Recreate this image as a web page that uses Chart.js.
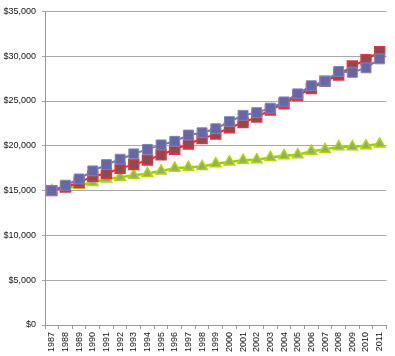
<!DOCTYPE html>
<html>
<head>
<meta charset="utf-8">
<script src="https://cdn.jsdelivr.net/npm/chart.js@4/dist/chart.umd.min.js"></script>
<style>
html,body{margin:0;padding:0;background:#fff;}
#wrap{width:395px;height:356px;}
</style>
</head>
<body>
<div id="wrap"><canvas id="c" width="395" height="356"></canvas></div>
<script>
const years = ['1987','1988','1989','1990','1991','1992','1993','1994','1995','1996','1997','1998','1999','2000','2001','2002','2003','2004','2005','2006','2007','2008','2009','2010','2011'];
const blueSeries = [15000,15600,16300,17200,17900,18500,19100,19600,20100,20500,21200,21450,21900,22700,23400,23700,24200,24900,25800,26700,27200,28300,28200,28700,29700];
const redSeries = [15000,15400,15900,16600,16900,17500,17900,18400,19000,19600,20200,20800,21300,22000,22600,23200,24000,24700,25600,26400,27200,27900,28900,29600,30500];
const greenSeries = [15000,15300,15600,15900,16300,16500,16700,16900,17200,17500,17600,17700,18000,18200,18400,18450,18700,18900,19000,19400,19600,19900,19900,20000,20200];
const yMin = 0, yMax = 35000, yStep = 5000;

function money(v){
  const s = Math.round(v).toString().replace(/\B(?=(\d{3})+(?!\d))/g, ',');
  return '$' + s;
}

new Chart(document.getElementById('c'), {
  type: 'line',
  data: {
    labels: years,
    datasets: [
      {
        data: blueSeries,
        borderColor: '#7474B4',
        borderWidth: 2,
        pointStyle: 'rect',
        pointRadius: 7,
        pointBackgroundColor: '#6767A6',
        pointBorderColor: '#8282BC',
        pointBorderWidth: 1,
        tension: 0
      },
      {
        data: redSeries,
        borderColor: '#E8262B',
        borderWidth: 2,
        pointStyle: 'rect',
        pointRadius: 7,
        pointBackgroundColor: '#8E4A50',
        pointBorderColor: '#EE3035',
        pointBorderWidth: 1.5,
        tension: 0
      },
      {
        data: greenSeries,
        borderColor: '#A2CE00',
        borderWidth: 2.5,
        pointStyle: 'triangle',
        pointRadius: 6,
        pointBackgroundColor: '#93AE6C',
        pointBorderColor: '#B0D800',
        pointBorderWidth: 1.5,
        tension: 0
      }
    ]
  },
  options: {
    responsive: false,
    animation: false,
    devicePixelRatio: 1,
    layout: { padding: { top: 8, right: 4, left: 0, bottom: 0 } },
    plugins: { legend: { display: false }, tooltip: { enabled: false } },
    scales: {
      x: {
        type: 'category',
        offset: true,
        grid: { offset: true, drawOnChartArea: false, drawTicks: true, tickLength: 4, color: '#999' },
        border: { color: '#999', width: 1 },
        ticks: {
          autoSkip: false,
          minRotation: 90,
          maxRotation: 90,
          padding: 3,
          color: '#111',
          font: { family: 'Liberation Sans, Arial, sans-serif', size: 9 }
        },
        afterFit: function(s){ s.height = 31; }
      },
      y: {
        min: yMin,
        max: yMax,
        grid: { color: '#A8A8A8', lineWidth: 1, tickLength: 3, drawTicks: true },
        border: { color: '#999', width: 1 },
        ticks: {
          stepSize: yStep,
          padding: 6,
          color: '#111',
          font: { family: 'Liberation Sans, Arial, sans-serif', size: 9 },
          callback: function(v){ return money(v); }
        },
        afterFit: function(s){ s.width = 45; }
      }
    }
  }
});
</script>
</body>
</html>
